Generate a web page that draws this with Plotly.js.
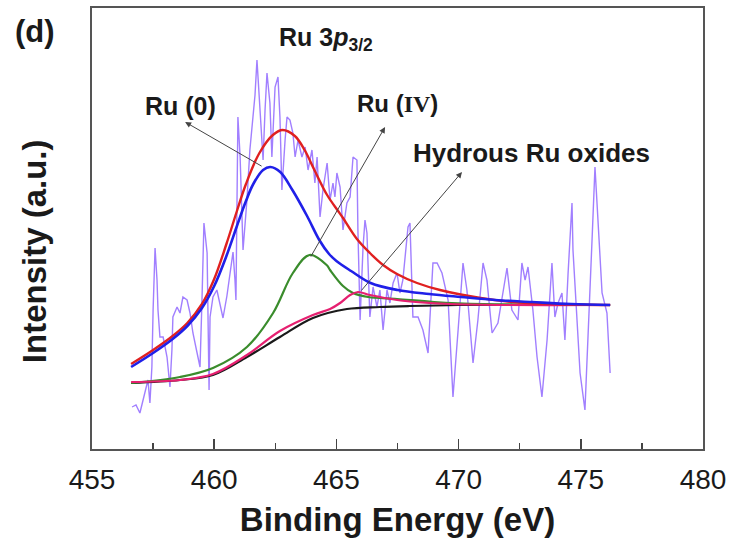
<!DOCTYPE html>
<html><head><meta charset="utf-8">
<script src="https://cdn.plot.ly/plotly-3.0.1.min.js"></script>
<style>html,body{margin:0;padding:0;background:#fff}#chart{width:729px;height:541px}</style>
</head><body><div id="chart"></div>
<script>
// Raw Ru 3p3/2 spectrum (binding energy in eV, intensity in a.u.)
const rawEnergy = [456.64,456.80,456.96,457.17,457.29,457.37,457.45,457.50,457.58,457.66,457.70,457.78,457.91,458.07,458.19,458.27,458.31,458.48,458.60,458.72,458.89,459.01,459.13,459.30,459.42,459.50,459.58,459.71,459.79,459.83,459.95,460.11,460.24,460.36,460.52,460.65,460.77,460.85,460.89,460.97,461.06,461.18,461.34,461.46,461.59,461.67,461.75,461.87,462.00,462.08,462.16,462.28,462.36,462.49,462.61,462.69,462.77,462.90,462.98,463.10,463.22,463.31,463.43,463.59,463.72,463.84,464.00,464.12,464.21,464.33,464.45,464.62,464.74,464.86,464.94,465.02,465.15,465.27,465.43,465.56,465.68,465.84,465.88,465.97,466.09,466.17,466.25,466.37,466.50,466.66,466.78,466.91,467.07,467.19,467.32,467.48,467.60,467.72,467.93,468.01,468.13,468.34,468.54,468.75,468.95,469.12,469.32,469.57,469.77,469.98,470.18,470.34,470.59,470.79,471.00,471.16,471.37,471.61,471.82,471.98,472.18,472.43,472.59,472.72,472.84,473.04,473.21,473.41,473.62,473.82,473.94,474.07,474.23,474.35,474.48,474.64,474.68,474.84,474.97,475.17,475.30,475.46,475.58,475.70,475.87,476.07,476.20];
const rawIntensity = [42,44,36,59,69,46,82,139,201,169,139,112,112,92,62,99,132,142,136,152,149,136,116,96,82,149,226,196,59,132,152,159,144,131,153,179,197,169,149,332,292,199,249,299,332,354,389,346,289,339,376,346,292,362,372,332,259,309,332,329,316,292,309,292,302,279,299,266,292,232,259,286,249,266,252,276,262,219,246,252,292,289,219,129,202,229,216,132,162,142,159,119,159,146,166,176,156,169,222,226,132,132,119,96,186,186,176,149,52,119,186,159,86,129,186,169,116,126,159,181,139,129,186,169,182,139,92,52,109,186,132,146,156,109,176,246,199,136,76,39,109,209,282,232,156,136,76];

// Fitted components (all including the Shirley background)
const bgEnergy = [456.6,458.6,459.95,461.34,462.69,464.04,465.43,466.78,468.0,470.0,472.0,476.2];
const bgIntensity = [66,69,74,92,112,131,140,142,143,144,144,144];

const hydEnergy = [456.6,458.6,459.95,461.34,462.69,464.04,464.74,465.15,465.56,465.88,466.37,467.48,468.83,469.65,472.0,476.2];
const hydIntensity = [67,69,75,94,118,134,140,146,154,157,154,149,146,145,144,144];

const ru4Energy = [456.6,458.6,459.95,461.34,462.41,463.22,463.9,464.6,464.74,465.27,465.68,466.3,467.48,469.0,471.0,476.2];
const ru4Intensity = [66,72,81,102,136,176,194,184,179,163,156,152,150,147,145,144];

const ru0Energy = [456.6,457.5,458.3,458.9,459.5,460.0,460.5,460.93,461.3,461.6,462.0,462.3,462.7,463.2,463.8,464.3,464.7,465.0,465.6,466.4,467.5,468.8,470.1,471.5,473.0,474.6,476.2];
const ru0Intensity = [82,96,110,123,141,163,193,223,248,265,279,282,277,259,233,209,195,188,178,166,159,155,152,149,147,145,144];

const envEnergy = [456.6,457.5,458.3,458.9,459.5,460.0,460.5,460.93,461.3,461.85,462.4,462.8,463.3,463.7,464.1,464.62,465.07,465.27,465.84,466.37,466.91,467.48,468.3,469.24,470.9,472.2,474.0,476.2];
const envIntensity = [85,99,113,126,145,170,205,238,265,296,314,319,313,299,279,254,238,231,210,196,184,175,166,159,151,147,145,144];

const xTicks = [455,460,465,470,475,480];

const FONT = 'Arial, "Liberation Sans", sans-serif';

const traces = [
  {x: rawEnergy, y: rawIntensity, mode:'lines', line:{color:'rgba(145,105,255,0.85)', width:1.4}, hoverinfo:'skip'},
  {x: bgEnergy, y: bgIntensity, mode:'lines', line:{color:'#1a1a1a', width:2.2, shape:'spline'}},
  {x: ru4Energy, y: ru4Intensity, mode:'lines', line:{color:'#3a8c2c', width:2.2, shape:'spline'}},
  {x: hydEnergy, y: hydIntensity, mode:'lines', line:{color:'#e62070', width:2.2, shape:'spline'}},
  {x: envEnergy, y: envIntensity, mode:'lines', line:{color:'#e02020', width:2.4, shape:'spline'}},
  {x: ru0Energy, y: ru0Intensity, mode:'lines', line:{color:'#2020e8', width:2.6, shape:'spline'}}
];

function arrow(x, y, ax, ay) {
  return {x:x, y:y, ax:ax, ay:ay, xref:'x', yref:'y', axref:'x', ayref:'y', text:'', showarrow:true,
          arrowhead:2, arrowsize:1.2, arrowwidth:1, arrowcolor:'#444', standoff:0, startstandoff:0};
}
function label(x, y, text, size) {
  return {x:x, y:y, xref:'x', yref:'y', text:text, showarrow:false, xanchor:'center', yanchor:'middle',
          font:{family:FONT, size:size, color:'#1a1a1a'}};
}

const layout = {
  width:729, height:541,
  margin:{l:92, r:26, t:8, b:92},
  paper_bgcolor:'#fff', plot_bgcolor:'#fff',
  showlegend:false,
  font:{family:FONT, color:'#1a1a1a'},
  xaxis:{
    range:[455,480], tickvals:xTicks, ticktext:xTicks.map(String),
    ticks:'inside', ticklen:10, tickwidth:1.5, tickcolor:'#444',
    minor:{dtick:2.5, ticks:'inside', ticklen:6, tickwidth:1.5, tickcolor:'#444'},
    showline:true, linecolor:'#555', linewidth:2, mirror:true,
    showgrid:false, zeroline:false,
    tickfont:{family:FONT, size:28, color:'#1a1a1a'},
    ticklabelstandoff:4,
    title:{text:'<b>Binding Energy (eV)</b>', font:{family:FONT, size:33, color:'#1a1a1a'}, standoff:14}
  },
  yaxis:{
    range:[0,441], showticklabels:false, ticks:'',
    showline:true, linecolor:'#555', linewidth:2, mirror:true,
    showgrid:false, zeroline:false
  },
  annotations:[
    arrow(458.81, 327, 462.0, 282),
    arrow(466.99, 322, 463.92, 191),
    arrow(470.14, 277, 465.97, 157),
    label(458.64, 343, '<b>Ru (0)</b>', 25),
    label(467.48, 346, '<b>Ru (<span style="font-family:\'Liberation Serif\',\'Times New Roman\',serif">IV</span>)</b>', 24),
    label(473.0, 296, '<b>Hydrous Ru oxides</b>', 26),
    {x:462.55, y:410, xref:'x', yref:'y', xanchor:'left', yanchor:'middle', showarrow:false,
     text:'<b>Ru 3<i>p</i><sub>3/2</sub></b>', font:{family:FONT, size:25, color:'#1a1a1a'}},
    {x:-0.094, y:0.947, xref:'paper', yref:'paper', xanchor:'center', yanchor:'middle', showarrow:false,
     text:'<b>(d)</b>', font:{family:FONT, size:31, color:'#1a1a1a'}},
    {x:-0.093, y:0.449, xref:'paper', yref:'paper', xanchor:'center', yanchor:'middle', showarrow:false,
     textangle:-90, text:'<b>Intensity (a.u.)</b>', font:{family:FONT, size:33, color:'#1a1a1a'}}
  ]
};

Plotly.newPlot('chart', traces, layout, {staticPlot:true});
</script></body></html>
